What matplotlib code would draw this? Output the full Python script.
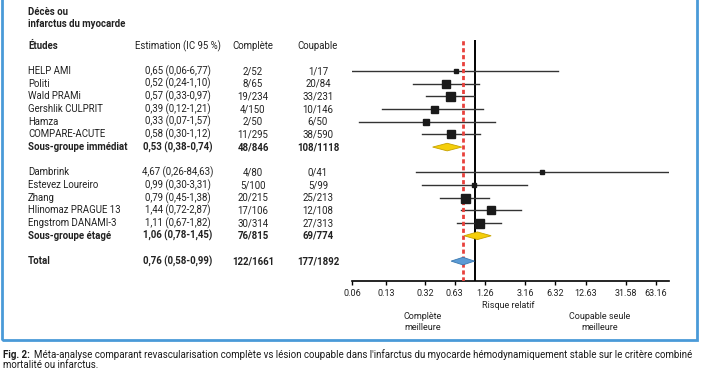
import matplotlib.pyplot as plt
import matplotlib.transforms as mtransforms
from matplotlib.patches import Rectangle

plt.rcParams['font.family'] = ['Roboto', 'DejaVu Sans']

studies = ["HELP AMI", "Politi", "Wald PRAMi", "Gershlik CULPRIT", "Hamza", "COMPARE-ACUTE",
           "Sous-groupe immédiat",
           "Dambrink", "Estevez Loureiro", "Zhang", "Hlinomaz PRAGUE 13", "Engstrom DANAMI-3",
           "Sous-groupe étagé",
           "Total"]
kind = ["s", "s", "s", "s", "s", "s", "sub", "s", "s", "s", "s", "s", "sub", "tot"]
rr = [0.65, 0.52, 0.57, 0.39, 0.33, 0.58, 0.53, 4.67, 0.99, 0.79, 1.44, 1.11, 1.06, 0.76]
lo = [0.06, 0.24, 0.33, 0.12, 0.07, 0.30, 0.38, 0.26, 0.30, 0.45, 0.72, 0.67, 0.78, 0.58]
hi = [6.77, 1.10, 0.97, 1.21, 1.57, 1.12, 0.74, 84.63, 3.31, 1.38, 2.87, 1.82, 1.45, 0.99]
complete = ["2/52", "8/65", "19/234", "4/150", "2/50", "11/295", "48/846",
            "4/80", "5/100", "20/215", "17/106", "30/314", "76/815", "122/1661"]
culprit = ["1/17", "20/84", "33/231", "10/146", "6/50", "38/590", "108/1118",
           "0/41", "5/99", "25/213", "12/108", "27/313", "69/774", "177/1892"]
ticks = [0.06, 0.13, 0.32, 0.63, 1.26, 3.16, 6.32, 12.63, 31.58, 63.16]

# square sizes (px) standing in for study weights
box_px = [5, 8, 9, 7, 6, 8, 0, 4, 5, 9, 8, 9, 0, 0]

W, H = 702, 370
fs = 6.9
fs_ax = 6.5
fig = plt.figure(figsize=(W / 100, H / 100), dpi=100)
ax = fig.add_axes([352 / W, 1 - 281 / H, 317 / W, 241 / H])
ax.set_xscale('log')
ax.set_xlim(0.06, 85)
ax.set_ylim(16.57, -2.45)

txt = '#222222'
line_c = '#333333'

ax.axvline(1, color='black', lw=1.4, zorder=2)
ax.axvline(rr[-1], color='#e8413c', lw=2, ls=(0, (1.5, 1)), zorder=4)

tr = mtransforms.blended_transform_factory(fig.transFigure, ax.transData)

row = 0
for i in range(len(studies)):
    weight = 'bold' if kind[i] != 's' else 'normal'
    est_txt = f"{rr[i]:.2f} ({lo[i]:.2f}-{hi[i]:.2f})".replace('.', ',')
    ax.text(28 / W, row, studies[i], transform=tr, ha='left', va='center',
            fontsize=fs, fontweight=weight, color=txt, clip_on=False)
    ax.text(178 / W, row, est_txt, transform=tr, ha='center', va='center',
            fontsize=fs, fontweight=weight, color=txt, clip_on=False)
    ax.text(253 / W, row, complete[i], transform=tr, ha='center', va='center',
            fontsize=fs, fontweight=weight, color=txt, clip_on=False)
    ax.text(318 / W, row, culprit[i], transform=tr, ha='center', va='center',
            fontsize=fs, fontweight=weight, color=txt, clip_on=False)
    if kind[i] == 's':
        ax.plot([lo[i], hi[i]], [row, row], color=line_c, lw=1, zorder=3)
        ax.plot([rr[i]], [row], marker='s', ms=box_px[i] * 0.72, color='#1a1a1a', zorder=5)
    else:
        h = 0.3
        fc, ec = ('#f5cf0a', '#c7a200') if kind[i] == 'sub' else ('#5b9bd5', '#3a78b0')
        ax.fill([lo[i], rr[i], hi[i], rr[i]], [row, row - h, row, row + h],
                facecolor=fc, edgecolor=ec, lw=0.6, zorder=5)
        row += 1
    row += 1

# headers
ax.text(28 / W, -4.66, "Décès ou", transform=tr, ha='left', va='center',
        fontsize=fs, fontweight='bold', color=txt, clip_on=False)
ax.text(28 / W, -3.7, "infarctus du myocarde", transform=tr, ha='left', va='center',
        fontsize=fs, fontweight='bold', color=txt, clip_on=False)
ax.text(28 / W, -1.97, "Études", transform=tr, ha='left', va='center',
        fontsize=fs, fontweight='bold', color=txt, clip_on=False)
ax.text(178 / W, -1.97, "Estimation (IC 95 %)", transform=tr, ha='center', va='center',
        fontsize=fs, color=txt, clip_on=False)
ax.text(253 / W, -1.97, "Complète", transform=tr, ha='center', va='center',
        fontsize=fs, color=txt, clip_on=False)
ax.text(318 / W, -1.97, "Coupable", transform=tr, ha='center', va='center',
        fontsize=fs, color=txt, clip_on=False)

for s in ['top', 'right', 'left']:
    ax.spines[s].set_visible(False)
ax.spines['bottom'].set_linewidth(1.2)
ax.set_yticks([])
ax.minorticks_off()
ax.set_xticks(ticks)
ax.set_xticklabels([f"{t:.2f}" for t in ticks], fontsize=fs_ax, color=txt)
ax.tick_params(axis='x', which='both', direction='out', length=3, width=1, pad=3)
ax.patch.set_alpha(0)

fig.text(508 / W, 1 - 306 / H, "Risque relatif", ha='center', va='center', fontsize=fs_ax, color=txt)
fig.text(423 / W, 1 - 322 / H, "Complète\nmeilleure", ha='center', va='center',
         fontsize=fs_ax, color=txt, linespacing=1.2)
fig.text(600 / W, 1 - 322 / H, "Coupable seule\nmeilleure", ha='center', va='center',
         fontsize=fs_ax, color=txt, linespacing=1.2)

# blue frame
fig.patches.append(Rectangle((2 / W, 1 - 340 / H), 695 / W, 340 / H + 0.05,
                             transform=fig.transFigure, fill=False,
                             edgecolor='#4a9ad8', lw=2, clip_on=False))

# caption, sized so the first line spans the frame width
cap_fs = 6.8
lab = fig.text(3 / W, 1 - 355 / H, "Fig. 2:", ha='left', va='center', fontsize=cap_fs,
               fontweight='bold', color='#1a1a1a')
body = fig.text(0, 1 - 355 / H,
                "Méta-analyse comparant revascularisation complète vs lésion coupable dans l'infarctus "
                "du myocarde hémodynamiquement stable sur le critère combiné",
                ha='left', va='center', fontsize=cap_fs, color='#1a1a1a')
r = fig.canvas.get_renderer()
w_lab = lab.get_window_extent(r).width
w_body = body.get_window_extent(r).width
scale = 695 / (w_lab + 4 + w_body)
cap_fs *= scale
lab.set_fontsize(cap_fs)
body.set_fontsize(cap_fs)
body.set_x((3 + lab.get_window_extent(r).width + 4) / W)
fig.text(3 / W, 1 - 365.5 / H, "mortalité ou infarctus.", ha='left', va='center',
         fontsize=cap_fs, color='#1a1a1a')

fig.savefig('out.png', dpi=100)
